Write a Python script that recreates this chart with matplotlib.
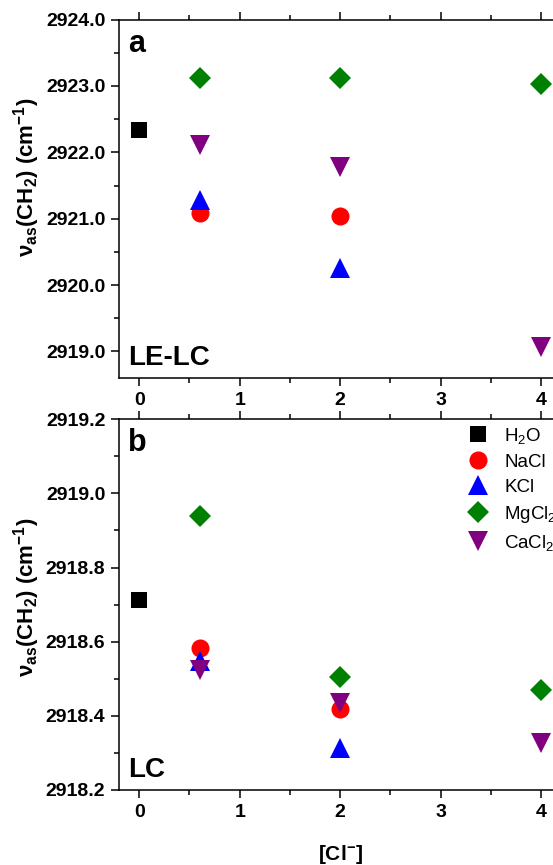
import matplotlib
matplotlib.use("Agg")
import matplotlib.pyplot as plt
from matplotlib.ticker import MultipleLocator, FormatStrFormatter

plt.rcParams['font.family'] = ['Liberation Sans', 'DejaVu Sans']
plt.rcParams['mathtext.fontset'] = 'custom'
plt.rcParams['mathtext.rm'] = 'Liberation Sans'
plt.rcParams['mathtext.bf'] = 'Liberation Sans:bold'
plt.rcParams['mathtext.it'] = 'Liberation Sans:italic'

# ---- data ----
series = ["H$_2$O", "NaCl", "KCl", "MgCl$_2$", "CaCl$_2$"]
colors = ["black", "red", "blue", "green", "purple"]
markers = ["s", "o", "^", "D", "v"]
msizes = [11, 13, 14.5, 11, 14.5]

x_h2o = [0]
x_salt = [0.6, 2]
x_salt3 = [0.6, 2, 4]

# panel a (LE-LC)
a_h2o = [2922.33]
a_nacl = [2921.09, 2921.04]
a_kcl = [2921.28, 2920.25]
a_mgcl2 = [2923.12, 2923.12, 2923.03]
a_cacl2 = [2922.11, 2921.78, 2919.07]

# panel b (LC)
b_h2o = [2918.713]
b_nacl = [2918.584, 2918.418]
b_kcl = [2918.548, 2918.314]
b_mgcl2 = [2918.938, 2918.506, 2918.470]
b_cacl2 = [2918.524, 2918.434, 2918.326]

W, H = 553, 865
fig = plt.figure(figsize=(W / 100, H / 100), dpi=100)

ax_left = 119.2 / W
ax_w = 441.8 / W
ax1 = fig.add_axes([ax_left, 1 - 378 / H, ax_w, (378 - 19.6) / H])
ax2 = fig.add_axes([ax_left, 1 - 790 / H, ax_w, (790 - 419.2) / H])

def draw(ax, vals):
    xs = [x_h2o, x_salt, x_salt, x_salt3, x_salt3]
    for lab, c, m, ms, x, y in zip(series, colors, markers, msizes, xs, vals):
        ax.plot(x, y, linestyle="none", marker=m, color=c, markersize=ms,
                markeredgewidth=0, label=lab)
    ax.set_xlim(-0.2, 4.2)
    ax.xaxis.set_major_locator(MultipleLocator(1))
    ax.xaxis.set_minor_locator(MultipleLocator(0.5))
    ax.tick_params(axis='both', which='major', direction='out', length=6,
                   width=1.1, labelsize=14, pad=4)
    ax.tick_params(axis='both', which='minor', direction='out', length=3.5, width=1.1)
    ax.tick_params(axis='x', which='both', top=True, length=2, labeltop=False)
    ax.tick_params(axis='x', which='major', bottom=True, length=6)
    ax.tick_params(axis='x', which='minor', bottom=True, length=3.5)
    ax.spines['right'].set_visible(False)
    for s in ax.spines.values():
        s.set_linewidth(1.1)
    ax.set_ylabel(r"$\mathbf{\nu_{as}}$$\mathbf{(CH_2)\ (cm^{-1})}$", fontsize=16,
                  fontweight='bold')

draw(ax1, [a_h2o, a_nacl, a_kcl, a_mgcl2, a_cacl2])
ax1.set_ylim(2918.6, 2924.0)
ax1.yaxis.set_major_locator(MultipleLocator(1.0))
ax1.yaxis.set_minor_locator(MultipleLocator(0.5))
ax1.yaxis.set_major_formatter(FormatStrFormatter('%.1f'))
ax1.yaxis.set_label_coords(-0.175, 0.56)
ax1.text(0.02, 0.975, "a", transform=ax1.transAxes, fontsize=22,
         fontweight='bold', va='top', ha='left')
ax1.text(0.02, 0.02, "LE-LC", transform=ax1.transAxes, fontsize=20,
         fontweight='bold', va='bottom', ha='left')

draw(ax2, [b_h2o, b_nacl, b_kcl, b_mgcl2, b_cacl2])
ax2.set_ylim(2918.2, 2919.2)
ax2.yaxis.set_major_locator(MultipleLocator(0.2))
ax2.yaxis.set_minor_locator(MultipleLocator(0.1))
ax2.yaxis.set_major_formatter(FormatStrFormatter('%.1f'))
ax2.yaxis.set_label_coords(-0.175, 0.52)
ax2.text(0.02, 0.975, "b", transform=ax2.transAxes, fontsize=22,
         fontweight='bold', va='top', ha='left')
ax2.text(0.02, 0.02, "LC", transform=ax2.transAxes, fontsize=20,
         fontweight='bold', va='bottom', ha='left')
ax2.set_xlabel(r"[Cl$^{\mathbf{-}}$]", fontsize=15, fontweight='bold', labelpad=16)

for ax in (ax1, ax2):
    for lbl in ax.get_xticklabels() + ax.get_yticklabels():
        lbl.set_fontweight('bold')

leg = ax2.legend(loc='upper left', bbox_to_anchor=(0.787, 0.982), frameon=False,
                 fontsize=13.5, handletextpad=0.8, labelspacing=0.42,
                 borderaxespad=0, handlelength=1.2, borderpad=0)

fig.savefig("out.png", dpi=100)
